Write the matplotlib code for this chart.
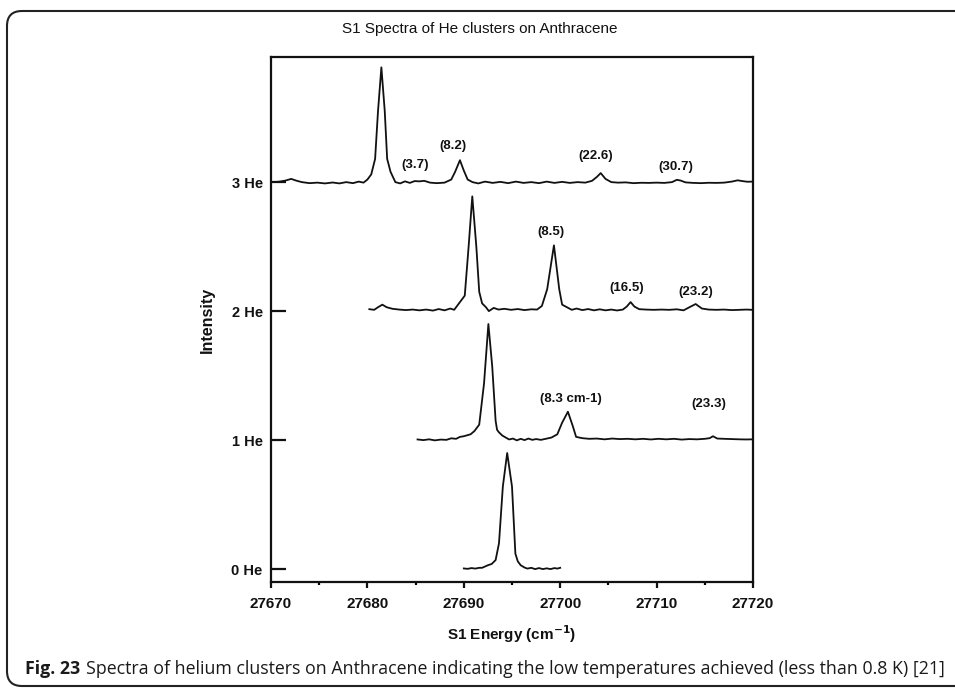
import matplotlib
matplotlib.use("Agg")
import matplotlib.pyplot as plt
from matplotlib.patches import FancyBboxPatch
from matplotlib.ticker import MultipleLocator

plt.rcParams['font.family'] = ['Liberation Sans', 'DejaVu Sans']

# Spectra: (energy in cm-1, intensity above baseline); each trace is offset by its cluster size
spec_3he = [
    (27670.0, 0.0), (27670.8, 0.003), (27671.5, 0.012), (27672.1, 0.025), (27672.6, 0.012),
    (27673.2, 0.0), (27674.0, -0.008), (27674.8, -0.004), (27675.6, -0.01), (27676.4, -0.003),
    (27677.1, -0.01), (27677.8, 0.0), (27678.5, -0.008), (27679.1, 0.004), (27679.6, -0.004),
    (27680.0, 0.02), (27680.4, 0.06), (27680.8, 0.18), (27681.1, 0.55), (27681.45, 0.89),
    (27681.8, 0.55), (27682.05, 0.18), (27682.4, 0.08), (27682.9, 0.0), (27683.4, -0.01),
    (27683.9, 0.006), (27684.4, -0.006), (27684.9, 0.008), (27685.4, 0.006), (27685.9, 0.01),
    (27686.5, -0.004), (27687.2, -0.008), (27688.0, -0.004), (27688.7, 0.02), (27689.1, 0.08),
    (27689.6, 0.17), (27690.0, 0.09), (27690.4, 0.02), (27690.9, 0.0), (27691.5, -0.01),
    (27692.2, 0.004), (27693.0, -0.006), (27693.8, 0.002), (27694.6, -0.008), (27695.4, 0.004),
    (27696.2, -0.006), (27697.0, 0.0), (27697.8, -0.008), (27698.6, 0.004), (27699.4, -0.006),
    (27700.2, 0.002), (27701.0, -0.006), (27701.8, 0.0), (27702.6, -0.004), (27703.3, 0.01),
    (27703.8, 0.04), (27704.2, 0.07), (27704.7, 0.025), (27705.3, 0.0), (27706.0, -0.004),
    (27706.8, -0.002), (27707.6, -0.008), (27708.4, -0.005), (27709.2, -0.006), (27710.0, -0.004),
    (27710.8, -0.006), (27711.6, 0.0), (27712.1, 0.018), (27712.5, 0.012), (27713.0, -0.002),
    (27713.8, -0.006), (27714.6, -0.008), (27715.4, -0.005), (27716.2, -0.006), (27717.0, -0.004),
    (27717.8, 0.004), (27718.4, 0.014), (27718.9, 0.008), (27719.4, 0.003), (27720.0, 0.004),
]

spec_2he = [
    (27680.2, 0.015), (27680.7, 0.01), (27681.1, 0.03), (27681.55, 0.05), (27682.0, 0.03),
    (27682.6, 0.018), (27683.3, 0.012), (27684.0, 0.008), (27684.7, 0.012), (27685.4, 0.006),
    (27686.1, 0.012), (27686.8, 0.004), (27687.4, 0.016), (27688.0, 0.006), (27688.6, 0.02),
    (27689.0, 0.01), (27689.4, 0.05), (27690.1, 0.12), (27690.5, 0.5), (27690.88, 0.89),
    (27691.3, 0.5), (27691.6, 0.15), (27691.9, 0.06), (27692.3, 0.03), (27692.6, 0.0),
    (27693.1, 0.025), (27693.6, 0.012), (27694.2, 0.018), (27694.9, 0.01), (27695.6, 0.016),
    (27696.3, 0.008), (27697.0, 0.014), (27697.6, 0.012), (27698.1, 0.04), (27698.65, 0.17),
    (27699.35, 0.51), (27699.9, 0.17), (27700.2, 0.05), (27700.7, 0.03), (27701.2, 0.01),
    (27701.7, 0.02), (27702.3, 0.008), (27702.9, 0.016), (27703.5, 0.006), (27704.1, 0.014),
    (27704.7, 0.006), (27705.3, 0.012), (27705.9, 0.005), (27706.5, 0.012), (27706.9, 0.035),
    (27707.3, 0.07), (27707.7, 0.035), (27708.2, 0.015), (27708.9, 0.012), (27709.7, 0.01),
    (27710.5, 0.012), (27711.3, 0.01), (27712.1, 0.014), (27712.8, 0.006), (27713.4, 0.03),
    (27714.05, 0.055), (27714.7, 0.02), (27715.4, 0.012), (27716.2, 0.01), (27717.0, 0.012),
    (27717.8, 0.008), (27718.6, 0.01), (27719.3, 0.012), (27720.0, 0.01),
]

spec_1he = [
    (27685.2, 0.005), (27685.8, 0.0), (27686.4, 0.006), (27687.0, -0.002), (27687.6, 0.004),
    (27688.2, 0.002), (27688.7, 0.014), (27689.2, 0.01), (27689.6, 0.025), (27690.0, 0.03),
    (27690.7, 0.045), (27691.1, 0.07), (27691.6, 0.12), (27692.1, 0.44), (27692.55, 0.9),
    (27692.95, 0.57), (27693.3, 0.15), (27693.45, 0.08), (27693.65, 0.06), (27694.0, 0.035),
    (27694.35, 0.02), (27694.7, 0.005), (27695.1, 0.012), (27695.5, -0.002), (27695.9, 0.01),
    (27696.3, 0.0), (27696.7, 0.012), (27697.1, 0.002), (27697.5, 0.008), (27698.0, 0.002),
    (27698.5, 0.01), (27699.1, 0.02), (27699.7, 0.045), (27700.2, 0.135), (27700.8, 0.22),
    (27701.3, 0.11), (27701.65, 0.025), (27702.3, 0.015), (27703.0, 0.01), (27703.8, 0.012),
    (27704.6, 0.006), (27705.4, 0.012), (27706.2, 0.008), (27707.0, 0.01), (27707.8, 0.006),
    (27708.6, 0.01), (27709.4, 0.005), (27710.2, 0.01), (27711.0, 0.006), (27711.8, 0.01),
    (27712.6, 0.004), (27713.4, 0.008), (27714.2, 0.006), (27715.0, 0.01), (27715.5, 0.015),
    (27715.85, 0.03), (27716.3, 0.012), (27717.0, 0.01), (27717.8, 0.008), (27718.6, 0.006),
    (27719.3, 0.005), (27720.0, 0.006),
]

spec_0he = [
    (27690.0, 0.005), (27690.4, 0.002), (27690.8, 0.008), (27691.2, 0.004), (27691.6, 0.01),
    (27691.9, 0.01), (27692.2, 0.02), (27692.5, 0.03), (27692.9, 0.04), (27693.3, 0.07),
    (27693.65, 0.2), (27694.05, 0.64), (27694.5, 0.9), (27695.0, 0.64), (27695.35, 0.12),
    (27695.6, 0.06), (27695.9, 0.03), (27696.3, 0.012), (27696.6, 0.004), (27697.0, 0.01),
    (27697.4, 0.0), (27697.8, 0.008), (27698.2, 0.0), (27698.6, 0.006), (27699.0, 0.0),
    (27699.4, 0.008), (27699.7, 0.004), (27700.0, 0.01),
]

cluster_sizes = [0, 1, 2, 3]
cluster_labels = ["0 He", "1 He", "2 He", "3 He"]
spectra = [spec_0he, spec_1he, spec_2he, spec_3he]

# Satellite shift annotations: (text, energy, height incl. offset)
shift_labels = [
    ("(3.7)", 27685.0, 3.13), ("(8.2)", 27688.9, 3.28), ("(22.6)", 27703.7, 3.20),
    ("(30.7)", 27712.0, 3.12),
    ("(8.5)", 27699.0, 2.61), ("(16.5)", 27706.9, 2.18), ("(23.2)", 27714.1, 2.15),
    ("(8.3 cm-1)", 27701.1, 1.32), ("(23.3)", 27715.4, 1.28),
]

W, H = 955, 688
fig = plt.figure(figsize=(W / 100, H / 100), dpi=100)
ax = fig.add_axes([271 / W, 1 - 582 / H, (753 - 271) / W, (582 - 57) / H])

for n, spec in zip(cluster_sizes, spectra):
    e = [p[0] for p in spec]
    v = [p[1] + n for p in spec]
    ax.plot(e, v, color="#111111", lw=1.3, solid_joinstyle="round")

for txt, x, y in shift_labels:
    ax.text(x, y, txt, ha="center", va="center", fontsize=9.5, fontweight="bold", color="#111111")

ax.set_xlim(27670, 27720)
ax.set_ylim(-0.1, 3.97)
ax.xaxis.set_major_locator(MultipleLocator(10))
ax.xaxis.set_minor_locator(MultipleLocator(5))
ax.set_yticks(cluster_sizes)
ax.set_yticklabels(cluster_labels)
for s in ax.spines.values():
    s.set_linewidth(1.6)
    s.set_color("#111111")
ax.tick_params(axis="x", which="major", direction="out", length=4, width=1.6,
               labelsize=11, pad=7, colors="#111111")
ax.tick_params(axis="x", which="minor", direction="out", length=2.5, width=1.6)
ax.tick_params(axis="y", direction="in", length=11, width=1.6, labelsize=10.5, pad=6,
               colors="#111111")
for lab in ax.get_xticklabels() + ax.get_yticklabels():
    lab.set_fontweight("bold")

fig.text(480 / W, 1 - 29 / H, "S1 Spectra of He clusters on Anthracene",
         ha="center", va="center", fontsize=11, color="#111111")
fig.text(512 / W, 1 - 634 / H, r"S1 Energy (cm$^{\mathbf{-1}}$)", ha="center", va="center",
         fontsize=11, fontweight="bold", color="#111111")
fig.text(207 / W, 1 - 320 / H, "Intensity", ha="center", va="center", rotation=90,
         fontsize=11.5, fontweight="bold", color="#111111")

# Rounded frame around the figure panel (open to the right edge)
frame = FancyBboxPatch((7, 2), W + 30, 675, boxstyle="round,pad=0,rounding_size=15",
                       transform=None, fill=False, lw=1.5, edgecolor="#222222")
fig.patches.append(frame)

# Caption: bold figure number followed by the description, fitted to the panel width
cap_y = 1 - 669 / H
cap_fam = ['Open Sans', 'Liberation Sans', 'DejaVu Sans']
cap_size = 11.0
t1 = fig.text(25 / W, cap_y, "Fig. 23", ha="left", va="center", fontsize=cap_size,
              fontweight="bold", color="#1a1a1a", family=cap_fam)
t2 = fig.text(0, cap_y,
              "Spectra of helium clusters on Anthracene indicating the low temperatures achieved (less than 0.8 K) [21]",
              ha="left", va="center", fontsize=cap_size, color="#1a1a1a", family=cap_fam)
fig.canvas.draw()
r = fig.canvas.get_renderer()
w_total = t1.get_window_extent(r).width + 5 + t2.get_window_extent(r).width
scale = (945 - 25) / w_total
cap_size *= scale
t1.set_fontsize(cap_size)
t2.set_fontsize(cap_size)
fig.canvas.draw()
bb = t1.get_window_extent(r)
t2.set_x((bb.x1 + 5 * scale) / W)

fig.savefig("out.png", dpi=100)
